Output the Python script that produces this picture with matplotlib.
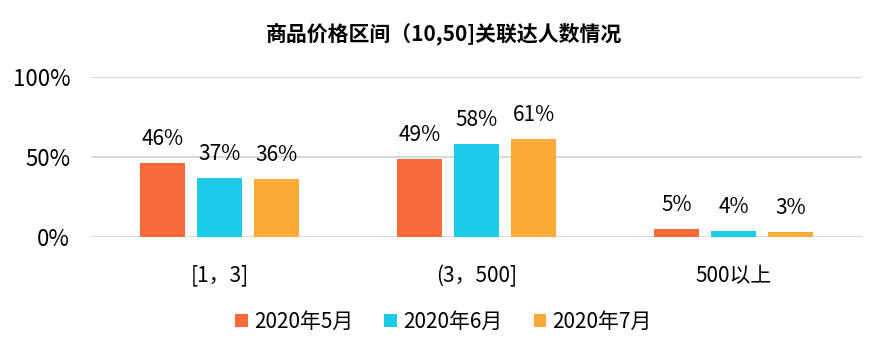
import matplotlib
matplotlib.use("Agg")
import matplotlib.pyplot as plt
import numpy as np

plt.rcParams['font.family'] = ['Noto Sans CJK SC', 'DejaVu Sans']

categories = ["[1，3]", "(3，500]", "500以上"]
series_names = ["2020年5月", "2020年6月", "2020年7月"]
may = [46, 49, 5]
jun = [37, 58, 4]
jul = [36, 61, 3]
yticks = [0, 50, 100]
colors = ["#F96A3A", "#1DCAE8", "#FBAA35"]
title = "商品价格区间（10,50]关联达人数情况"

fig = plt.figure(figsize=(8.87, 3.54), dpi=100)
ax = fig.add_axes([0.1026, 0.3305, 0.8694, 0.452])
x = np.arange(len(categories))
w = 0.175
off = 0.222
for i, (vals, name, c) in enumerate(zip([may, jun, jul], series_names, colors)):
    bars = ax.bar(x + (i - 1) * off, vals, width=w, color=c, label=name, zorder=3)
    for xi, v in zip(x + (i - 1) * off, vals):
        ax.text(xi, v + 15, f"{v}%", ha="center", va="center", fontsize=15)

ax.set_xlim(-0.5, 2.5)
ax.set_ylim(0, 100)
ax.set_yticks(yticks)
ax.set_yticklabels([f"{t}%" for t in yticks], fontsize=16)
ax.set_xticks(x)
ax.set_xticklabels(categories, fontsize=15)
ax.tick_params(axis='both', length=0)
ax.tick_params(axis='x', pad=20)
ax.tick_params(axis='y', pad=15)
ax.grid(axis='y', color='#D9D9D9', linewidth=1.5, zorder=0)
for s in ax.spines.values():
    s.set_visible(False)

fig.text(0.5, 0.905, title, ha='center', va='center', fontsize=15, fontweight='bold')
fig.legend(loc='center', bbox_to_anchor=(0.5, 0.09), ncol=3, frameon=False,
           fontsize=15, handlelength=0.6, handleheight=0.6, handletextpad=0.3,
           columnspacing=1.5)
fig.savefig("out.png", dpi=100)
